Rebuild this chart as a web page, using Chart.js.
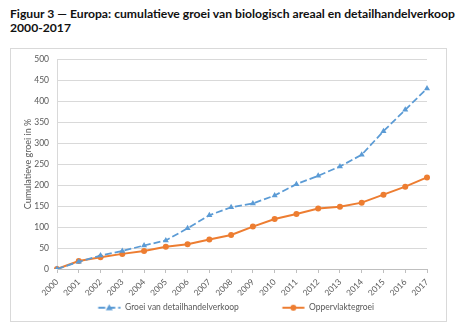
<!DOCTYPE html>
<html>
<head>
<meta charset="utf-8">
<script src="https://cdn.jsdelivr.net/npm/chart.js@4/dist/chart.umd.min.js"></script>
<style>
  html, body { margin: 0; padding: 0; background: #fff; }
  #wrap { position: relative; width: 460px; height: 327px; overflow: hidden; }
  #title { position: absolute; left: 10px; top: 7px; font-family: Lato, "Open Sans", sans-serif; font-weight: bold; font-size: 12.2px; line-height: 14px; color: #111; white-space: nowrap; }
  #frame { position: absolute; left: 10px; top: 48px; width: 437px; height: 274px; border: 1px solid #d9d9d9; box-sizing: border-box; }
  #c { position: absolute; left: 0; top: 0; }
</style>
</head>
<body>
<div id="wrap">
  <div id="title"><span id="t1">Figuur 3 — Europa: cumulatieve groei van biologisch areaal en detailhandelverkoop</span><br>2000-2017</div>
  <div id="frame"></div>
  <canvas id="c" width="460" height="327"></canvas>
</div>
<script>
const categories = ['2000','2001','2002','2003','2004','2005','2006','2007','2008','2009','2010','2011','2012','2013','2014','2015','2016','2017'];
const retailGrowth = [0, 17, 32, 43, 56, 68, 97, 128, 147, 156, 175, 202, 222, 244, 272, 328, 379, 430];
const areaGrowth = [0, 19, 28, 36, 43, 53, 59, 70, 81, 101, 119, 131, 144, 148, 158, 177, 196, 218];
const seriesNames = ['Groei van detailhandelverkoop', 'Oppervlaktegroei'];
const yAxisTitle = 'Cumulatieve groei in %';

const BLUE = '#5b9bd5';
const ORANGE = '#ed7d31';
const TXT = '#595959';
const FONT = 'Lato, "Open Sans", sans-serif';
const LEG_FS = 8.5;
const LEG_PAD = 8;

// fit title line 1 to the reference width (about 445px)
(function fitTitle() {
  const t1 = document.getElementById('t1');
  const w = t1.getBoundingClientRect().width;
  if (w > 0) {
    const fs = 12.2 * 445 / w;
    document.getElementById('title').style.fontSize = fs.toFixed(2) + 'px';
  }
})();

// legend geometry: blue text should start at x≈125, orange text at x≈309
const mctx = document.createElement('canvas').getContext('2d');
mctx.font = LEG_FS + 'px ' + FONT;
const tw1 = mctx.measureText(seriesNames[0]).width;
const tw2 = mctx.measureText(seriesNames[1]).width;
const boxW = Math.round(184 - tw1 - LEG_PAD - LEG_FS / 2);
const b = 125 - LEG_FS / 2 - boxW;
const lineWidth = 2 * boxW + LEG_FS + tw1 + tw2 + 2 * LEG_PAD;
const R = 2 * b - LEG_PAD + lineWidth; // with left padding 0
let padRight = 460 - R;
let dummyW = R - 427;
if (dummyW < 0) { dummyW = 0; padRight = 33; }

function legendMarker(color, dashed, shape) {
  const c = document.createElement('canvas');
  c.width = boxW; c.height = 10;
  const g = c.getContext('2d');
  const x0 = boxW - 22.5, x1 = boxW - 0.5, xm = (x0 + x1) / 2;
  g.strokeStyle = color; g.fillStyle = color; g.lineWidth = 2;
  if (dashed) g.setLineDash([7, 3]);
  g.beginPath(); g.moveTo(x0, 5); g.lineTo(x1, 5); g.stroke();
  g.setLineDash([]);
  g.beginPath();
  if (shape === 'triangle') {
    g.moveTo(xm, 1.5); g.lineTo(xm + 3.5, 7.5); g.lineTo(xm - 3.5, 7.5); g.closePath();
  } else {
    g.arc(xm, 5, 3, 0, Math.PI * 2);
  }
  g.fill();
  return c;
}
const markers = [legendMarker(BLUE, true, 'triangle'), legendMarker(ORANGE, false, 'circle')];

new Chart(document.getElementById('c'), {
  type: 'line',
  data: {
    labels: categories,
    datasets: [
      {
        label: seriesNames[0], data: retailGrowth,
        borderColor: BLUE, backgroundColor: BLUE, borderWidth: 1.75,
        borderDash: [7, 3], pointStyle: 'triangle', pointRadius: 3.5,
        pointBorderWidth: 0, tension: 0
      },
      {
        label: seriesNames[1], data: areaGrowth,
        borderColor: ORANGE, backgroundColor: ORANGE, borderWidth: 2,
        pointStyle: 'circle', pointRadius: 3, pointBorderWidth: 0, tension: 0
      }
    ]
  },
  options: {
    responsive: false,
    animation: false,
    layout: { padding: { left: 0, right: padRight, top: 59, bottom: 5 } },
    plugins: {
      title: { display: false },
      tooltip: { enabled: false },
      legend: {
        position: 'bottom',
        labels: {
          usePointStyle: true, pointStyleWidth: boxW, padding: LEG_PAD,
          color: TXT, font: { family: FONT, size: LEG_FS },
          generateLabels(chart) {
            const items = Chart.defaults.plugins.legend.labels.generateLabels(chart);
            items.forEach((it, i) => { it.pointStyle = markers[i]; });
            return items;
          }
        }
      }
    },
    scales: {
      x: {
        offset: false,
        grid: { drawOnChartArea: false, drawTicks: true, tickLength: 4, color: '#bfbfbf' },
        border: { display: true, color: '#bfbfbf' },
        ticks: { autoSkip: false, maxRotation: 45, minRotation: 45, padding: 4, color: TXT, font: { family: FONT, size: 8.5 } },
        afterFit(s) { s.height = 26.5; }
      },
      y: {
        min: 0, max: 500,
        ticks: { stepSize: 50, padding: 8, color: TXT, font: { family: FONT, size: 8.5 } },
        grid: { color: '#d9d9d9', drawTicks: false },
        border: { display: true, color: '#d9d9d9' },
        title: { display: true, text: yAxisTitle, color: TXT, font: { family: FONT, size: 9 }, padding: { top: 22.6, bottom: 0 } },
        afterFit(s) { s.width = 57; }
      },
      yR: {
        type: 'linear', position: 'right', display: dummyW > 0,
        grid: { display: false }, border: { display: false }, ticks: { display: false },
        afterFit(s) { s.width = dummyW; }
      }
    }
  }
});
</script>
</body>
</html>
